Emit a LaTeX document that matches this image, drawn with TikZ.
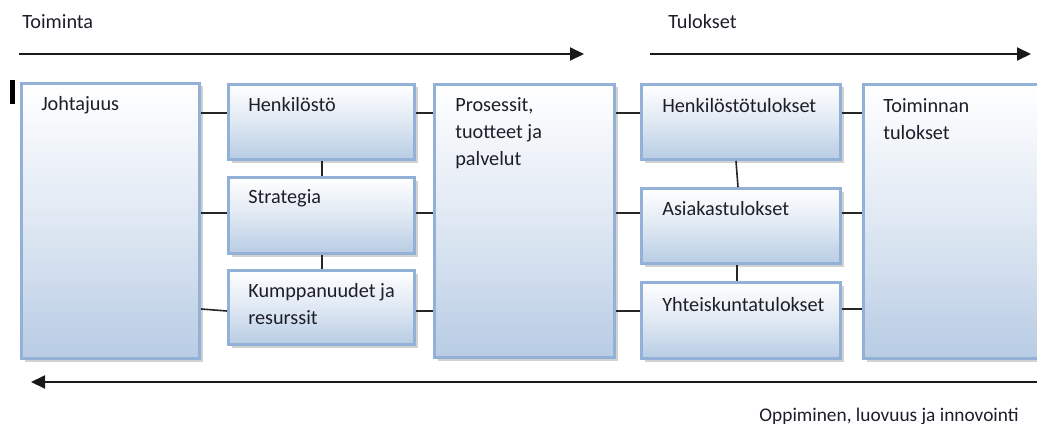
\documentclass[tikz,border=0pt]{standalone}
\usepackage{fontspec}
\setmainfont{Carlito}
\usetikzlibrary{arrows.meta,shadows}
\definecolor{boxedge}{HTML}{93B1D6}
\definecolor{boxbottom}{HTML}{B8CCE4}
\definecolor{inkdark}{HTML}{1E1E2A}
% one pixel of the drawing grid
\newlength{\pxu}\setlength{\pxu}{0.75pt}
\tikzset{
  panel/.style={draw=boxedge, line width=3\pxu, top color=white, bottom color=boxbottom,
    middle color=boxbottom!45, anchor=north west, inner sep=0pt,
    drop shadow={shadow xshift=3\pxu, shadow yshift=-3\pxu, fill=black!40, opacity=0.45}},
  lbl/.style={anchor=west, inner sep=0pt, text=inkdark, font=\fontsize{15.2}{17}\selectfont},
  link/.style={line width=1.6\pxu, draw=black!85},
  flow/.style={line width=2\pxu, draw=black!90, -{Triangle[length=10.5pt,width=9.75pt]}}
}
\begin{document}
\begin{tikzpicture}[x=\pxu, y=-\pxu]
\clip (0,0) rectangle (1037,424);
\fill[white] (0,0) rectangle (1037,424);

% top flow arrows and their captions
\coordinate (t1s) at (19,54);  \coordinate (t1e) at (584,54);
\coordinate (t2s) at (650,54); \coordinate (t2e) at (1031,54);
\draw[flow] (t1s) -- (t1e);
\draw[flow] (t2s) -- (t2e);
\node[lbl] (toim) at (22,22) {Toiminta};
\node[lbl] (tul) at (668,22) {Tulokset};

% small marker bar at the left edge
\coordinate (m1) at (12,80); \coordinate (m2) at (12,104);
\draw[line width=5\pxu, black] (m1) -- (m2);

% boxes
\node[panel, minimum width=178\pxu, minimum height=275\pxu] (jo) at (20,82) {};
\node[panel, minimum width=186\pxu, minimum height=75\pxu] (hk) at (227,83) {};
\node[panel, minimum width=186\pxu, minimum height=76\pxu] (st) at (227,176) {};
\node[panel, minimum width=186\pxu, minimum height=74\pxu] (ku) at (227,269) {};
\node[panel, minimum width=180\pxu, minimum height=273\pxu] (pr) at (433,83) {};
\node[panel, minimum width=199\pxu, minimum height=75\pxu] (ht) at (640,83) {};
\node[panel, minimum width=199\pxu, minimum height=75\pxu] (as) at (640,187) {};
\node[panel, minimum width=199\pxu, minimum height=76\pxu] (yh) at (640,281) {};
\node[panel, minimum width=200\pxu, minimum height=274\pxu] (tt) at (862,83) {};

% box captions
\node[lbl] (jo-t) at (41,105) {Johtajuus};
\node[lbl] (hk-t) at (248,105) {Henkilöstö};
\node[lbl] (st-t) at (248,198) {Strategia};
\node[lbl] (ku-t1) at (248,292) {Kumppanuudet ja};
\node[lbl] (ku-t2) at (248,318) {resurssit};
\node[lbl] (pr-t1) at (455,106) {Prosessit,};
\node[lbl] (pr-t2) at (455,133) {tuotteet ja};
\node[lbl] (pr-t3) at (455,160) {palvelut};
\node[lbl] (ht-t) at (662,106) {Henkilöstötulokset};
\node[lbl] (as-t) at (662,209) {Asiakastulokset};
\node[lbl] (yh-t) at (662,305) {Yhteiskuntatulokset};
\node[lbl] (tt-t1) at (883,106) {Toiminnan};
\node[lbl] (tt-t2) at (883,133) {tulokset};

% horizontal links
\draw[link] (jo.east |- 0,113) -- (hk.west |- 0,113);
\draw[link] (jo.east |- 0,213) -- (st.west |- 0,213);
\draw[link] (jo.east |- 0,309) -- (ku.west |- 0,311);
\draw[link] (hk.east |- 0,113) -- (pr.west |- 0,113);
\draw[link] (st.east |- 0,213) -- (pr.west |- 0,213);
\draw[link] (ku.east |- 0,311) -- (pr.west |- 0,311);
\draw[link] (pr.east |- 0,113) -- (ht.west |- 0,113);
\draw[link] (pr.east |- 0,213) -- (as.west |- 0,213);
\draw[link] (pr.east |- 0,311) -- (yh.west |- 0,311);
\draw[link] (ht.east |- 0,113) -- (tt.west |- 0,113);
\draw[link] (as.east |- 0,213) -- (tt.west |- 0,213);
\draw[link] (yh.east |- 0,309) -- (tt.west |- 0,309);

% vertical links
\draw[link] (hk.south -| 322,0) -- (st.north -| 322,0);
\draw[link] (st.south -| 322,0) -- (ku.north -| 322,0);
\draw[link] (ht.south -| 736,0) -- (as.north -| 738,0);
\draw[link] (as.south -| 737,0) -- (yh.north -| 737,0);

% feedback arrow along the bottom
\coordinate (bs) at (1037,382); \coordinate (be) at (31,382);
\draw[flow] (bs) -- (be);
\node[lbl, anchor=east, font=\fontsize{14.5}{16}\selectfont] (opp) at (1019,416) {Oppiminen, luovuus ja innovointi};
\end{tikzpicture}
\end{document}
